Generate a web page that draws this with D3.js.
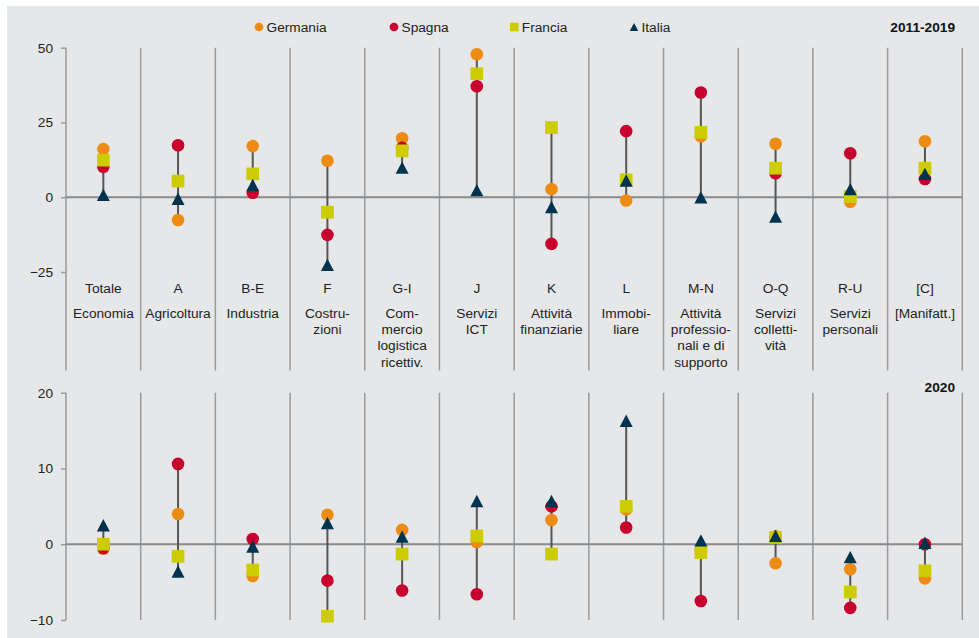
<!DOCTYPE html>
<html><head><meta charset="utf-8">
<script src="https://cdn.jsdelivr.net/npm/d3@7"></script>
<style>body{margin:0;background:#fff}svg{display:block;font-family:"Liberation Sans",Arial,sans-serif}</style>
</head><body><svg id="c" width="979" height="638"></svg>
<script>
const categories = ["Totale","A","B-E","F","G-I","J","K","L","M-N","O-Q","R-U","[C]"];
const descLabels = [["Economia"],["Agricoltura"],["Industria"],["Costru-","zioni"],["Com-","mercio","logistica","ricettiv."],["Servizi","ICT"],["Attività","finanziarie"],["Immobi-","liare"],["Attività","professio-","nali e di","supporto"],["Servizi","colletti-","vità"],["Servizi","personali"],["[Manifatt.]"]];
const seriesNames = ["Germania","Spagna","Francia","Italia"];
const seriesColors = ["#ec8c14","#c8002d","#cccc00","#00344e"];
const seriesShapes = ["circle","circle","square","triangle"];
const germania1119 = [16.1,-7.6,17.1,12.2,19.7,47.8,2.7,-1.1,20.4,17.9,-1.5,18.7];
const spagna1119   = [10.2,17.4,1.5,-12.6,16.5,37.1,-15.6,22.1,35.0,8.0,14.7,6.1];
const francia1119  = [12.4,5.4,7.8,-5.0,15.5,41.3,23.3,5.8,21.7,9.7,0.2,9.7];
const italia1119   = [0.8,-0.5,4.1,-22.6,9.9,2.4,-3.3,5.6,0.0,-6.5,2.7,7.8];
const germania2020 = [-0.6,4.0,-4.2,3.9,1.9,0.3,3.2,4.6,-0.9,-2.5,-3.3,-4.5];
const spagna2020   = [-0.5,10.6,0.7,-4.8,-6.1,-6.6,5.0,2.2,-7.5,1.0,-8.4,0.0];
const francia2020  = [0.0,-1.6,-3.4,-9.5,-1.3,1.1,-1.3,5.0,-1.1,0.9,-6.3,-3.5];
const italia2020   = [2.5,-3.6,-0.3,2.8,1.0,5.7,5.7,16.3,0.5,1.1,-1.7,0.2];
const ticks1119 = [50,25,0,-25];
const ticks2020 = [20,10,0,-10];
const titles = ["2011-2019","2020"];

const svg = d3.select("#c");
const FS = "13.7px";
svg.append("rect").attr("x",7).attr("y",6).attr("width",972).attr("height",632).attr("fill","#e6e7e9");

const x = d3.scaleBand().domain(categories).range([66,962.3]).padding(0);

function marker(g, shape, cx, cy, color, s) {
  if (shape === "circle") {
    g.append("circle").attr("cx",cx).attr("cy",cy).attr("r",s/2).attr("fill",color);
  } else if (shape === "square") {
    g.append("rect").attr("x",cx-s/2).attr("y",cy-s/2).attr("width",s).attr("height",s).attr("fill",color);
  } else {
    const h = s*0.95;
    g.append("path").attr("d",`M${cx},${cy-h/2}L${cx+s/2},${cy+h/2}L${cx-s/2},${cy+h/2}Z`).attr("fill",color);
  }
}

function panel(series, ticks, yRange, sepBottom, title, titleY) {
  const y = d3.scaleLinear().domain([d3.min(ticks), d3.max(ticks)]).range(yRange);
  const g = svg.append("g");
  // separators
  const bounds = categories.map(c => x(c)).concat([x.range()[1]]);
  g.selectAll("line.sep").data(bounds).enter().append("line")
    .attr("x1",d=>d).attr("x2",d=>d).attr("y1",y(d3.max(ticks))).attr("y2",sepBottom)
    .attr("stroke","#9a9a9a").attr("stroke-width",1.5);
  // axis
  const ax = g.append("g").attr("transform","translate(66,0)")
    .call(d3.axisLeft(y).tickValues(ticks).tickSize(5).tickPadding(8).tickFormat(d3.format("d")));
  ax.select(".domain").remove();
  ax.selectAll("line").attr("stroke","#9a9a9a").attr("stroke-width",1.5);
  ax.selectAll("text").attr("fill","#222").style("font-size",FS).style("font-family","'Liberation Sans',Arial,sans-serif");
  // zero line
  g.append("line").attr("x1",66).attr("x2",x.range()[1]).attr("y1",y(0)).attr("y2",y(0))
    .attr("stroke","#8a8a8a").attr("stroke-width",2.2);
  // stems
  categories.forEach((c,i) => {
    const vals = series.map(s => s[i]);
    const cx = x(c) + x.bandwidth()/2;
    g.append("line").attr("x1",cx).attr("x2",cx).attr("y1",y(d3.max(vals))).attr("y2",y(d3.min(vals)))
      .attr("stroke","#555").attr("stroke-width",2);
  });
  // markers
  series.forEach((s,k) => {
    categories.forEach((c,i) => {
      const cx = x(c) + x.bandwidth()/2;
      marker(g, seriesShapes[k], cx, y(s[i]), seriesColors[k], k===3 ? 13 : (k===2 ? 12.7 : 12.6));
    });
  });
  g.append("text").attr("x",955).attr("y",titleY).attr("text-anchor","end").attr("dy","0.35em")
    .style("font-size",FS).style("font-weight","bold").attr("fill","#111").text(title);
  return y;
}

panel([germania1119,spagna1119,francia1119,italia1119], ticks1119, [272,47.7], 370.5, titles[0], 27);
panel([germania2020,spagna2020,francia2020,italia2020], ticks2020, [620,392.7], 620, titles[1], 387.5);

// category labels
const lab = svg.append("g").style("font-size",FS).attr("fill","#222").attr("text-anchor","middle");
categories.forEach((c,i) => {
  const cx = x(c) + x.bandwidth()/2;
  lab.append("text").attr("x",cx).attr("y",288.5).attr("dy","0.35em").text(c);
  descLabels[i].forEach((t,j) => {
    lab.append("text").attr("x",cx).attr("y",313.5 + j*16.1).attr("dy","0.35em").text(t);
  });
});

// legend
const legX = [259,394,514.3,634];
const leg = svg.append("g");
seriesNames.forEach((n,k) => {
  marker(leg, seriesShapes[k], legX[k], 27, seriesColors[k], k===3 ? 8.5 : 8.7);
  leg.append("text").attr("x",legX[k]+7.5).attr("y",27).attr("dy","0.35em")
    .style("font-size",FS).attr("fill","#222").text(n);
});
</script></body></html>
